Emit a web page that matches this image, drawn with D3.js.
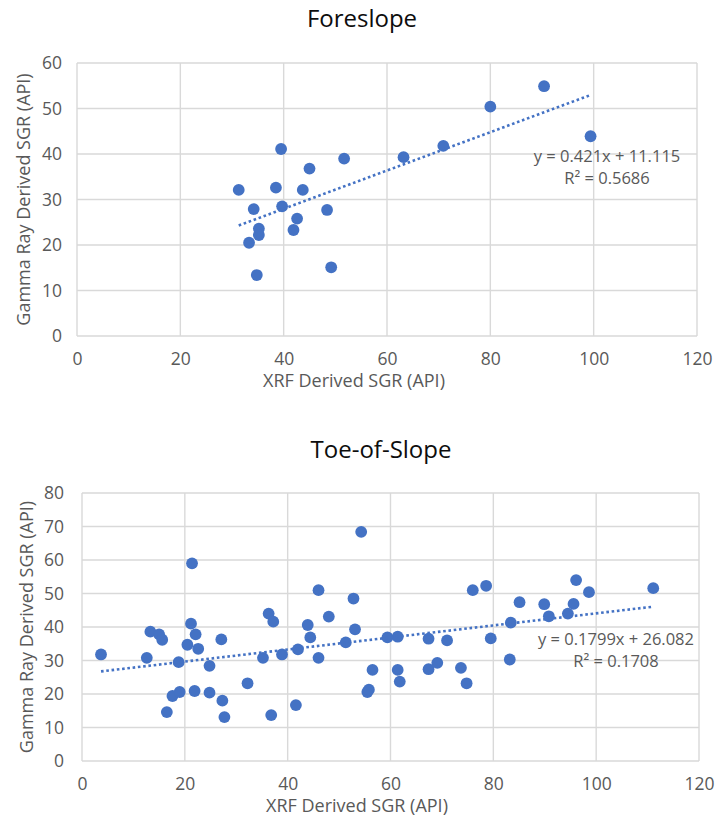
<!DOCTYPE html>
<html>
<head>
<meta charset="utf-8">
<script src="https://cdn.jsdelivr.net/npm/d3@7"></script>
<style>
  html, body { margin: 0; padding: 0; background: #fff; }
  svg { display: block; font-family: "Open Sans", "Noto Sans", sans-serif; }
</style>
</head>
<body>
<svg id="chart" width="715" height="824"></svg>
<script>
// Foreslope samples: XRF-derived vs gamma-ray-derived SGR (API)
const foreslopeXrf = [31.3, 34.2, 33.3, 35.2, 35.2, 34.8, 38.5, 39.5, 39.7, 41.9, 42.6,
                      43.7, 45.0, 48.4, 49.2, 51.7, 63.2, 70.9, 80.0, 90.4, 99.4];
const foreslopeGr  = [32.1, 27.9, 20.5, 23.6, 22.2, 13.4, 32.6, 41.1, 28.5, 23.3, 25.8,
                      32.1, 36.8, 27.7, 15.1, 39.0, 39.3, 41.8, 50.4, 54.9, 43.9];
const foreslopeFit = { slope: 0.421, intercept: 11.115, r2: "0.5686" };

// Toe-of-slope samples
const toeXrf = [3.7, 12.6, 13.3, 15.0, 15.6, 16.5, 17.6, 18.8, 19.0, 20.5, 21.4, 21.2,
                22.1, 21.9, 22.6, 24.8, 24.8, 27.1, 27.3, 27.7, 32.2, 35.2, 36.3, 37.2,
                36.8, 38.9, 41.6, 42.0, 43.9, 44.4, 46.0, 46.0, 48.0, 51.3, 52.8, 53.1,
                54.3, 56.5, 55.5, 55.8, 59.4, 61.4, 61.4, 61.8, 67.4, 67.4, 69.1, 71.0,
                73.7, 74.8, 76.0, 78.6, 79.5, 83.2, 83.4, 85.1, 89.9, 90.8, 94.5, 95.6,
                96.1, 98.6, 111.1];
const toeGr  = [31.8, 30.8, 38.6, 37.8, 36.2, 14.6, 19.4, 29.5, 20.6, 34.7, 59.0, 41.0,
                37.8, 20.9, 33.5, 28.4, 20.4, 36.3, 18.0, 13.1, 23.2, 30.8, 44.0, 41.6,
                13.7, 31.8, 16.7, 33.3, 40.6, 36.9, 51.0, 30.8, 43.1, 35.4, 48.5, 39.3,
                68.4, 27.2, 20.6, 21.3, 36.9, 37.1, 27.2, 23.7, 36.5, 27.4, 29.3, 36.0,
                27.8, 23.2, 51.0, 52.3, 36.6, 30.3, 41.3, 47.4, 46.8, 43.2, 44.0, 46.9,
                54.0, 50.4, 51.6];
const toeFit = { slope: 0.1799, intercept: 26.082, r2: "0.1708" };

const xTicks = [0, 20, 40, 60, 80, 100, 120];
const foreslopeYTicks = [0, 10, 20, 30, 40, 50, 60];
const toeYTicks = [0, 10, 20, 30, 40, 50, 60, 70, 80];

const titles = ["Foreslope", "Toe-of-Slope"];
const xLabel = "XRF Derived SGR (API)";
const yLabel = "Gamma Ray Derived SGR (API)";

const svg = d3.select("#chart");
const textGray = "#595959";
const gridGray = "#d9d9d9";
const markerBlue = "#4472C4";

function fmtEq(fit) {
  return "y = " + fit.slope + "x + " + fit.intercept;
}

function drawPanel(opt) {
  const g = svg.append("g");
  const x = d3.scaleLinear().domain([0, 120]).range([opt.left, opt.right]);
  const y = d3.scaleLinear().domain([0, d3.max(opt.yTicks)]).range([opt.bottom, opt.top]);

  // title
  g.append("text")
    .attr("x", opt.titleX).attr("y", opt.titleY)
    .attr("text-anchor", "middle")
    .attr("font-size", 24).attr("fill", "#0d0d0d")
    .text(opt.title);

  // gridlines
  g.append("g").selectAll("line.v").data(xTicks).join("line")
    .attr("x1", d => x(d)).attr("x2", d => x(d))
    .attr("y1", opt.top).attr("y2", opt.bottom)
    .attr("stroke", gridGray).attr("stroke-width", 1.4);
  g.append("g").selectAll("line.h").data(opt.yTicks).join("line")
    .attr("x1", opt.left).attr("x2", opt.right)
    .attr("y1", d => y(d)).attr("y2", d => y(d))
    .attr("stroke", gridGray).attr("stroke-width", 1.4);

  // axes (tick labels only; lines come from the grid)
  const xAxis = g.append("g")
    .attr("transform", `translate(0,${opt.bottom})`)
    .call(d3.axisBottom(x).tickValues(xTicks).tickSize(0).tickPadding(17));
  const yAxis = g.append("g")
    .attr("transform", `translate(${opt.left},0)`)
    .call(d3.axisLeft(y).tickValues(opt.yTicks).tickSize(0).tickPadding(opt.yPad));
  [xAxis, yAxis].forEach(a => {
    a.select(".domain").remove();
    a.selectAll("text")
      .attr("fill", textGray)
      .attr("font-size", 17.5)
      .attr("font-family", "'Open Sans', sans-serif");
  });

  // axis titles
  g.append("text")
    .attr("x", opt.xLabelX).attr("y", opt.bottom + 51)
    .attr("text-anchor", "middle")
    .attr("font-size", 18).attr("fill", textGray)
    .text(xLabel);
  g.append("text")
    .attr("transform", `translate(${opt.yLabelX},${(opt.top + opt.bottom) / 2}) rotate(-90)`)
    .attr("text-anchor", "middle")
    .attr("font-size", 18).attr("fill", textGray)
    .text(yLabel);

  // points
  const pts = opt.xs.map((v, i) => ({ x: v, y: opt.ys[i] }));
  g.append("g").selectAll("circle").data(pts).join("circle")
    .attr("cx", d => x(d.x)).attr("cy", d => y(d.y))
    .attr("r", 5.9).attr("fill", markerBlue);

  // linear trendline over the data range
  const [x0, x1] = d3.extent(opt.xs);
  const line = d3.line().x(d => x(d)).y(d => y(opt.fit.slope * d + opt.fit.intercept));
  g.append("path")
    .attr("d", line([x0, x1]))
    .attr("fill", "none")
    .attr("stroke", markerBlue)
    .attr("stroke-width", 2.6)
    .attr("stroke-dasharray", "2.6 2.7");

  // trendline equation
  const eq = g.append("text")
    .attr("text-anchor", "middle")
    .attr("font-size", 16.5).attr("fill", textGray);
  eq.append("tspan").attr("x", opt.eqX).attr("y", opt.eqY).text(fmtEq(opt.fit));
  eq.append("tspan").attr("x", opt.eqX).attr("y", opt.eqY + 22).text("R² = " + opt.fit.r2);
}

drawPanel({
  title: titles[0], titleX: 362, titleY: 27,
  left: 77, right: 697, top: 63, bottom: 336,
  yTicks: foreslopeYTicks, yPad: 15,
  xs: foreslopeXrf, ys: foreslopeGr, fit: foreslopeFit,
  xLabelX: 354, yLabelX: 30,
  eqX: 607, eqY: 162
});

drawPanel({
  title: titles[1], titleX: 381, titleY: 458,
  left: 82, right: 699, top: 493, bottom: 761,
  yTicks: toeYTicks, yPad: 18,
  xs: toeXrf, ys: toeGr, fit: toeFit,
  xLabelX: 357, yLabelX: 33,
  eqX: 616, eqY: 645
});
</script>
</body>
</html>
